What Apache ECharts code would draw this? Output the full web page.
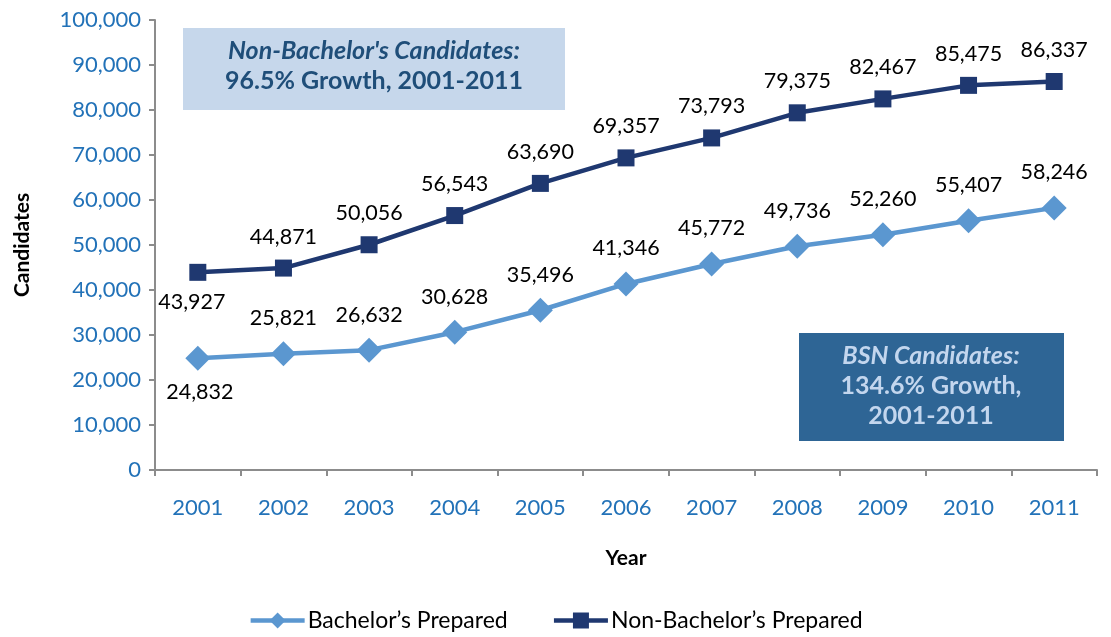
<!DOCTYPE html>
<html><head><meta charset="utf-8">
<script src="https://cdn.jsdelivr.net/npm/echarts@6/dist/echarts.min.js"></script>
<style>html,body{margin:0;padding:0;background:#fff}#c{width:1111px;height:637px}</style>
</head><body><div id="c"></div>
<script>
const years = ['2001','2002','2003','2004','2005','2006','2007','2008','2009','2010','2011'];
const bachelor = [24832,25821,26632,30628,35496,41346,45772,49736,52260,55407,58246];
const nonBachelor = [43927,44871,50056,56543,63690,69357,73793,79375,82467,85475,86337];
const yTicks = [0,10000,20000,30000,40000,50000,60000,70000,80000,90000,100000];

const FONT = 'Lato, "Open Sans", sans-serif';
const chart = echarts.init(document.getElementById('c'));
const fmt = v => v.toLocaleString('en-US');
function dataWithLabels(arr, dist, off){
  return arr.map((v,i)=> i===0 ? {value:v,label:{position:'bottom',distance:dist,offset:off}} : v);
}
chart.setOption({
  animation:false,
  textStyle:{fontFamily:FONT},
  grid:{left:155,right:14,top:20,bottom:167,containLabel:false},
  legend:{
    bottom:0,left:'center',itemWidth:54,itemHeight:20,itemGap:44,
    lineStyle:{width:4.5},
    textStyle:{fontSize:23,color:'#000',fontFamily:FONT,padding:[0,0,0,-2]},
    data:["Bachelor’s Prepared","Non-Bachelor’s Prepared"]
  },
  xAxis:{
    type:'category',data:years,boundaryGap:true,
    name:'Year',nameLocation:'middle',nameGap:78,
    nameTextStyle:{fontSize:21,fontWeight:'bold',color:'#000',fontFamily:FONT},
    axisLine:{lineStyle:{color:'#8c8c8c',width:2}},
    axisTick:{show:true,length:6,lineStyle:{color:'#8c8c8c',width:2},interval:0},
    axisLabel:{color:'#2272B8',fontSize:22,margin:27,fontFamily:FONT}
  },
  yAxis:{
    type:'value',min:yTicks[0],max:yTicks[yTicks.length-1],interval:10000,
    name:'Candidates',nameLocation:'middle',nameGap:122,nameRotate:90,
    nameTextStyle:{fontSize:21,fontWeight:'bold',color:'#000',fontFamily:FONT},
    axisLine:{show:true,lineStyle:{color:'#8c8c8c',width:2}},
    axisTick:{show:true,length:6,lineStyle:{color:'#8c8c8c',width:2}},
    splitLine:{show:false},
    axisLabel:{color:'#2272B8',fontSize:22,margin:14,fontFamily:FONT,formatter:v=>fmt(v)}
  },
  series:[
    {
      name:"Bachelor’s Prepared",type:'line',data:dataWithLabels(bachelor,10,[2,0]),
      symbol:'diamond',symbolSize:25,
      lineStyle:{color:'#5B97D0',width:4.5},itemStyle:{color:'#5B97D0'},
      label:{show:true,position:'top',distance:12,fontSize:21.5,color:'#000',fontFamily:FONT,formatter:p=>fmt(p.value)}
    },
    {
      name:"Non-Bachelor’s Prepared",type:'line',data:dataWithLabels(nonBachelor,10,[-6,0]),
      symbol:'rect',symbolSize:17,
      lineStyle:{color:'#1F3870',width:4.5},itemStyle:{color:'#1F3870'},
      label:{show:true,position:'top',distance:12,fontSize:21.5,color:'#000',fontFamily:FONT,formatter:p=>fmt(p.value)}
    }
  ],
  graphic:[
    {type:'rect',left:183,top:28,shape:{width:382,height:82},style:{fill:'#C6D7EB'}},
    {type:'text',style:{x:374,y:38,text:"Non-Bachelor's Candidates:",font:'italic bold 25px '+FONT,fill:'#1F4E79',textAlign:'center'}},
    {type:'text',style:{x:374,y:68,text:'96.5% Growth, 2001-2011',font:'bold 25px '+FONT,fill:'#1F4E79',textAlign:'center'}},
    {type:'rect',left:799,top:333,shape:{width:265,height:108},style:{fill:'#2E6595'}},
    {type:'text',style:{x:931,y:343,text:'BSN Candidates:',font:'italic bold 25px '+FONT,fill:'#C3D6EE',textAlign:'center'}},
    {type:'text',style:{x:931,y:373,text:'134.6% Growth,',font:'bold 25px '+FONT,fill:'#C3D6EE',textAlign:'center'}},
    {type:'text',style:{x:931,y:403,text:'2001-2011',font:'bold 25px '+FONT,fill:'#C3D6EE',textAlign:'center'}}
  ]
});
</script></body></html>
